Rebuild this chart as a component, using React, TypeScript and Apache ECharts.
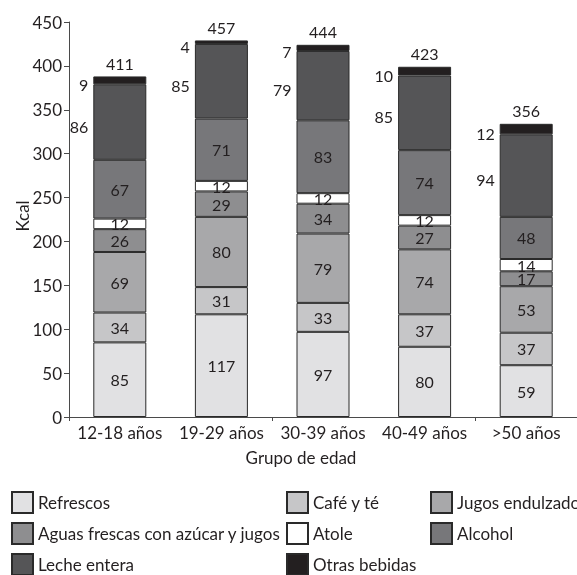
import React, { useEffect, useRef } from "react";
import * as echarts from "echarts";

const categories = ["12-18 años", "19-29 años", "30-39 años", "40-49 años", ">50 años"];
const refrescos = [85, 117, 97, 80, 59];
const cafeYTe = [34, 31, 33, 37, 37];
const jugosEndulzados = [69, 80, 79, 74, 53];
const aguasFrescas = [26, 29, 34, 27, 17];
const atole = [12, 12, 12, 12, 14];
const alcohol = [67, 71, 83, 74, 48];
const lecheEntera = [86, 85, 79, 85, 94];
const otrasBebidas = [9, 4, 7, 10, 12];
const totals = [411, 457, 444, 423, 356];
const yTicks = { min: 0, max: 450, interval: 50 };

const FONT = "Lato";
const TXT = "#231f20";

export default function App() {
  const ref = useRef<HTMLDivElement>(null);
  useEffect(() => {
    if (!ref.current) return;
    const chart = echarts.init(ref.current, undefined, { renderer: "svg" });
    const border = { borderColor: "#2a2a2a", borderWidth: 1 };
    const insideLabel = { show: true, position: "inside", color: TXT, fontSize: 16, fontFamily: FONT };
    const leftLabel = { show: true, position: "left", distance: 5, offset: [0, 4], color: TXT, fontSize: 16, fontFamily: FONT };
    const mk = (name: string, data: number[], color: string, label: any) => ({
      name,
      type: "bar",
      stack: "a",
      barWidth: 53,
      data,
      itemStyle: { color, ...border },
      label,
      emphasis: { disabled: true },
    });
    const series: any[] = [
      mk("Refrescos", refrescos, "#e1e1e3", insideLabel),
      mk("Café y té", cafeYTe, "#c6c6c8", insideLabel),
      mk("Jugos endulzados", jugosEndulzados, "#a8a8aa", insideLabel),
      mk("Aguas frescas con azúcar y jugos", aguasFrescas, "#8e8e90", insideLabel),
      mk("Atole", atole, "#ffffff", insideLabel),
      mk("Alcohol", alcohol, "#77777a", insideLabel),
      mk("Leche entera", lecheEntera, "#555557", leftLabel),
      mk("Otras bebidas", otrasBebidas, "#231f20", leftLabel),
      {
        name: "Total",
        type: "bar",
        stack: "a",
        barWidth: 53,
        data: totals.map(() => 0),
        itemStyle: { color: "transparent", borderWidth: 0 },
        label: {
          show: true,
          position: "top",
          distance: 5,
          color: TXT,
          fontSize: 16,
          fontFamily: FONT,
          formatter: (p: any) => String(totals[p.dataIndex]),
        },
      },
    ];
    const legendItem = (name: string, left: number, top: number) => ({
      orient: "horizontal",
      left,
      top,
      padding: 0,
      itemWidth: 21,
      itemHeight: 21,
      selectedMode: false,
      textStyle: { color: TXT, fontSize: 17, fontFamily: FONT },
      icon: "rect",
      data: [name],
    });
    const c1 = 11, c2 = 286, c3 = 430;
    const r1 = 491, r2 = 522, r3 = 553;
    chart.setOption({
      animation: false,
      textStyle: { fontFamily: FONT },
      grid: { left: 69, right: -8, top: 22, bottom: 158 },
      legend: [
        legendItem("Refrescos", c1, r1),
        legendItem("Café y té", c2, r1),
        legendItem("Jugos endulzados", c3, r1),
        legendItem("Aguas frescas con azúcar y jugos", c1, r2),
        legendItem("Atole", c2, r2),
        legendItem("Alcohol", c3, r2),
        legendItem("Leche entera", c1, r3),
        legendItem("Otras bebidas", c2, r3),
      ],
      xAxis: {
        type: "category",
        data: categories,
        axisLine: { lineStyle: { color: "#4a4a4a", width: 1 } },
        axisTick: { show: true, interval: 1, length: 4, lineStyle: { color: "#4a4a4a" } },
        axisLabel: { interval: 0, color: TXT, fontSize: 17, fontFamily: FONT, margin: 7 },
      },
      yAxis: {
        type: "value",
        min: yTicks.min,
        max: yTicks.max,
        interval: yTicks.interval,
        axisLine: { show: true, lineStyle: { color: "#4a4a4a", width: 1 } },
        axisTick: { show: true, length: 5, lineStyle: { color: "#4a4a4a" } },
        axisLabel: { color: TXT, fontSize: 17, fontFamily: FONT, margin: 7 },
        splitLine: { show: false },
      },
      graphic: [
        {
          type: "text",
          x: 22,
          y: 216,
          rotation: Math.PI / 2,
          style: { text: "Kcal", fill: TXT, fontSize: 17, fontFamily: FONT, align: "center", verticalAlign: "middle" },
        },
        {
          type: "text",
          x: 301,
          y: 457,
          style: { text: "Grupo de edad", fill: TXT, fontSize: 17, fontFamily: FONT, align: "center", verticalAlign: "middle" },
        },
      ],
      series,
    });
    return () => chart.dispose();
  }, []);
  return <div ref={ref} style={{ position: "fixed", left: 0, top: 0, width: 577, height: 575 }} />;
}
